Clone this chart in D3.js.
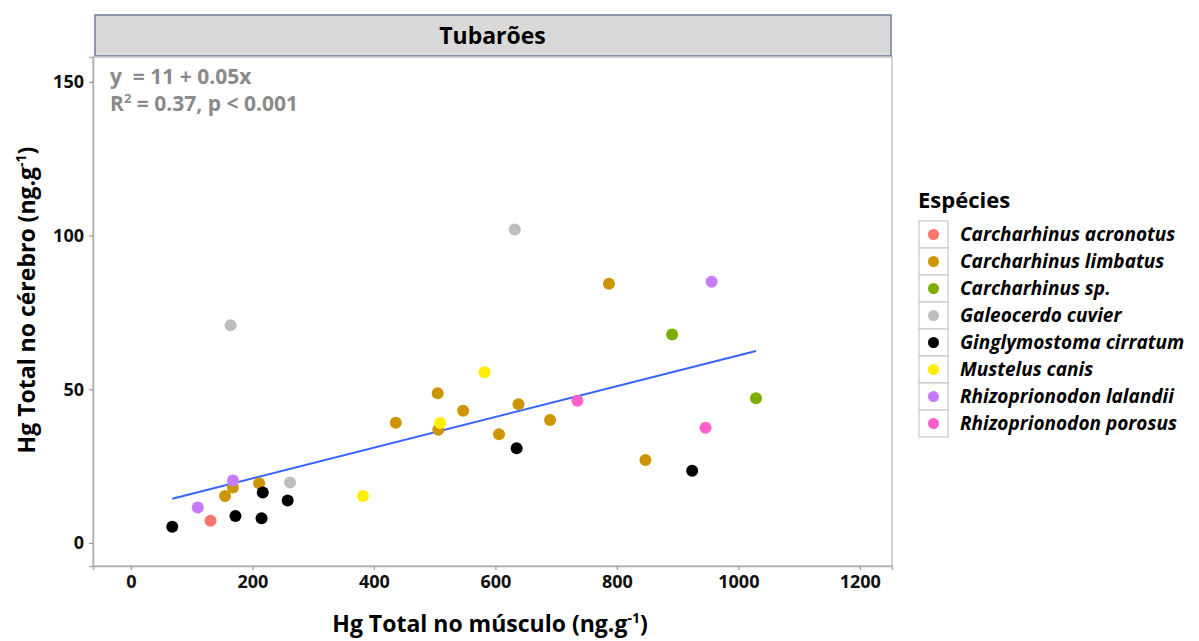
<!DOCTYPE html>
<html>
<head>
<meta charset="utf-8">
<script src="https://cdn.jsdelivr.net/npm/d3@7"></script>
<style>
  body { margin: 0; background: #fff; }
  text { font-family: "Open Sans", Lato, sans-serif; }
</style>
</head>
<body>
<div id="chart"></div>
<script>
// species and colours (legend order)
var especies = ["Carcharhinus acronotus", "Carcharhinus limbatus", "Carcharhinus sp.",
  "Galeocerdo cuvier", "Ginglymostoma cirratum", "Mustelus canis",
  "Rhizoprionodon lalandii", "Rhizoprionodon porosus"];
var cores = ["#F8766D", "#CD9600", "#7CAE00", "#BEBEBE", "#000000", "#FFEE00", "#C77CFF", "#FF61CC"];

// Hg no músculo (x), Hg no cérebro (y), species index
var musculo = [131,
  155, 168, 211, 436, 505, 506, 547, 606, 638, 690, 787, 847,
  891, 1029,
  164, 262, 632,
  68, 172, 215, 217, 258, 635, 924,
  382, 509, 582,
  110, 168, 956,
  735, 946];
var cerebro = [7.2,
  15.3, 18.0, 19.4, 39.1, 48.7, 36.8, 43.0, 35.4, 45.1, 40.0, 84.3, 27.0,
  67.8, 47.1,
  70.8, 19.7, 102,
  5.3, 8.8, 8.0, 16.4, 13.8, 30.8, 23.5,
  15.3, 39.0, 55.5,
  11.5, 20.3, 85.0,
  46.3, 37.5];
var especie = [0,
  1, 1, 1, 1, 1, 1, 1, 1, 1, 1, 1, 1,
  2, 2,
  3, 3, 3,
  4, 4, 4, 4, 4, 4, 4,
  5, 5, 5,
  6, 6, 6,
  7, 7];

var xTicks = [0, 200, 400, 600, 800, 1000, 1200];
var yTicks = [0, 50, 100, 150];

// regression y = 11 + 0.05x
var intercepto = 11, inclinacao = 0.05;

var svgWidth = 1199, svgHeight = 641;
var panel = { left: 93, right: 892, top: 57, bottom: 566 };

var svg = d3.select("#chart").append("svg").attr("width", svgWidth).attr("height", svgHeight);

var xScale = d3.scaleLinear().domain([-62.5, 1253]).range([panel.left, panel.right]);
var yScale = d3.scaleLinear().domain([-7.5, 158.1]).range([panel.bottom, panel.top]);

// strip
svg.append("rect")
  .attr("x", panel.left + 2).attr("y", 15)
  .attr("width", panel.right - panel.left - 3).attr("height", 41)
  .attr("fill", "#d9d9d9").attr("stroke", "#6f7d9c").attr("stroke-width", 1.5);
svg.append("text")
  .attr("x", (panel.left + panel.right) / 2).attr("y", 44)
  .attr("text-anchor", "middle").attr("font-size", 23).attr("font-weight", "bold")
  .text("Tubarões");

// panel border
svg.append("rect")
  .attr("x", panel.left).attr("y", panel.top)
  .attr("width", panel.right - panel.left).attr("height", panel.bottom - panel.top)
  .attr("fill", "#fff").attr("stroke", "#c4c4c4").attr("stroke-width", 1.5);

// axes
var xAxis = d3.axisBottom(xScale).tickValues(xTicks).tickFormat(d3.format("d")).tickSize(4).tickPadding(5);
var yAxis = d3.axisLeft(yScale).tickValues(yTicks).tickFormat(d3.format("d")).tickSize(4).tickPadding(5);

var gx = svg.append("g").attr("transform", `translate(0, ${panel.bottom})`).call(xAxis);
var gy = svg.append("g").attr("transform", `translate(${panel.left}, 0)`).call(yAxis);
[gx, gy].forEach(function(g) {
  g.select(".domain").attr("stroke", "#b0b0b0").attr("stroke-width", 1.5);
  g.selectAll(".tick line").attr("stroke", "#9a9a9a").attr("stroke-width", 1.2);
  g.selectAll(".tick text").attr("font-size", 18).attr("font-weight", "bold")
    .attr("fill", "#111").style("font-family", "'Open Sans', sans-serif");
});

// regression line
var xMin = d3.min(musculo), xMax = d3.max(musculo);
svg.append("line")
  .attr("x1", xScale(xMin)).attr("y1", yScale(intercepto + inclinacao * xMin))
  .attr("x2", xScale(xMax)).attr("y2", yScale(intercepto + inclinacao * xMax))
  .attr("stroke", "#3366FF").attr("stroke-width", 2);

// points
svg.append("g").selectAll("circle")
  .data(musculo)
  .enter()
  .append("circle")
  .attr("cx", d => xScale(d))
  .attr("cy", (d, i) => yScale(cerebro[i]))
  .attr("r", 6)
  .attr("fill", (d, i) => cores[especie[i]]);

// equation
var eq = svg.append("g").attr("fill", "#8a8a8a").attr("font-size", 21).attr("font-weight", "bold");
eq.append("text").attr("x", 110).attr("y", 84).attr("xml:space", "preserve").text("y  = 11 + 0.05x");
var r2 = eq.append("text").attr("x", 110).attr("y", 111);
r2.append("tspan").text("R");
r2.append("tspan").attr("dy", -8).attr("font-size", 13).text("2");
r2.append("tspan").attr("dy", 8).text(" = 0.37, p < 0.001");

// axis titles
var yt = svg.append("text")
  .attr("transform", `translate(35, 300) rotate(-90)`)
  .attr("text-anchor", "middle").attr("font-size", 23).attr("font-weight", "bold");
yt.append("tspan").text("Hg Total no cérebro (ng.g");
yt.append("tspan").attr("dy", -9).attr("font-size", 14).text("-1");
yt.append("tspan").attr("dy", 9).text(")");

var xt = svg.append("text")
  .attr("x", 490).attr("y", 632)
  .attr("text-anchor", "middle").attr("font-size", 23).attr("font-weight", "bold");
xt.append("tspan").text("Hg Total no músculo (ng.g");
xt.append("tspan").attr("dy", -9).attr("font-size", 14).text("-1");
xt.append("tspan").attr("dy", 9).text(")");

// legend
var legend = svg.append("g").attr("transform", "translate(919, 221)");
legend.append("text").attr("x", -1).attr("y", -13)
  .attr("font-size", 22).attr("font-weight", "bold").text("Espécies");
var item = legend.selectAll("g.item").data(especies).enter().append("g")
  .attr("class", "item")
  .attr("transform", (d, i) => `translate(0, ${i * 27})`);
item.append("rect").attr("width", 29).attr("height", 27)
  .attr("fill", "#fff").attr("stroke", "#c8c8c8").attr("stroke-width", 1.2);
item.append("circle").attr("cx", 14.5).attr("cy", 13.5).attr("r", 5.5)
  .attr("fill", (d, i) => cores[i]);
item.append("text").attr("x", 41).attr("y", 20)
  .attr("font-size", 19).attr("font-weight", "bold").attr("font-style", "italic")
  .text(d => d);
</script>
</body>
</html>
